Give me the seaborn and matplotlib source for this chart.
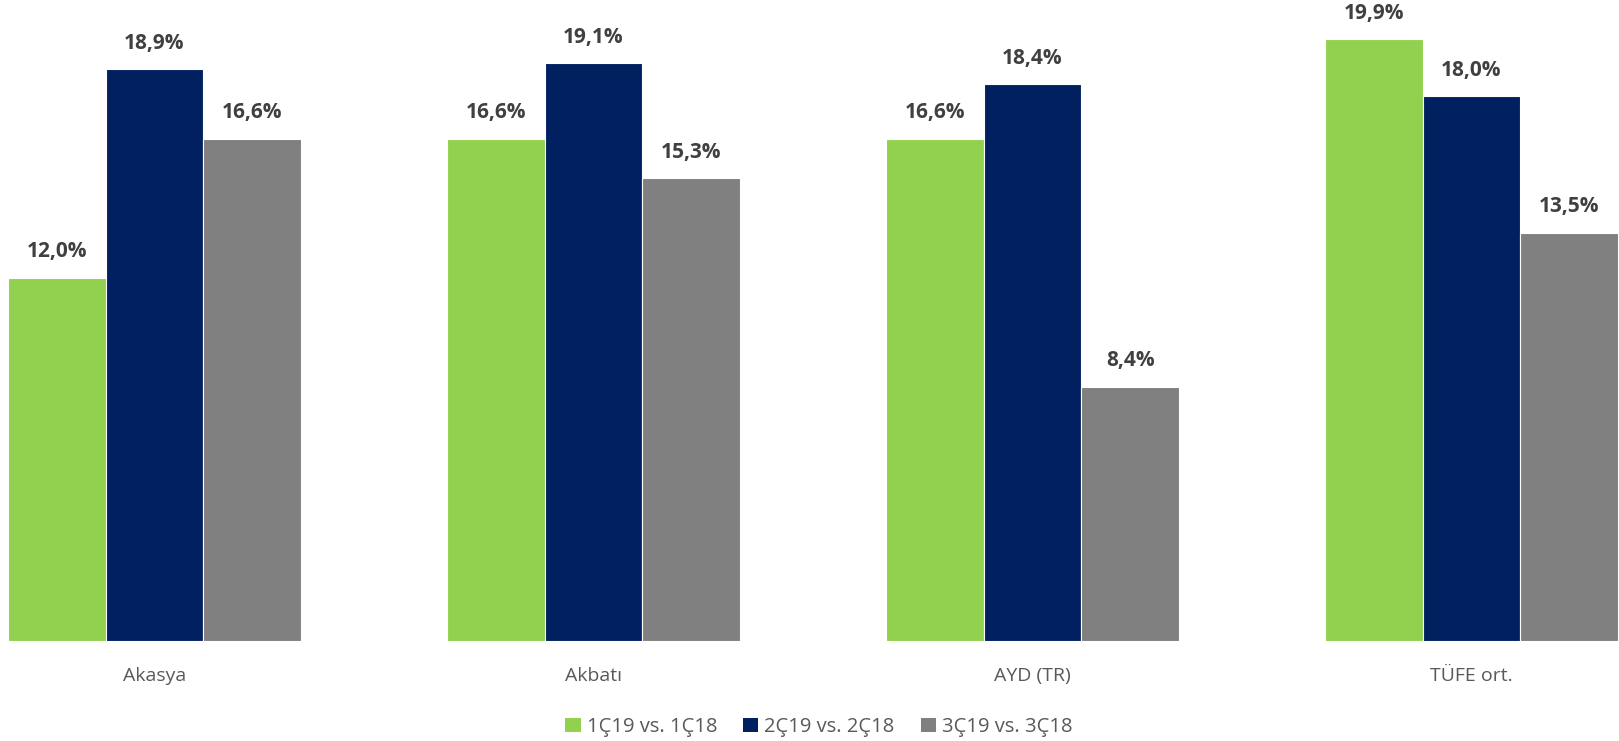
import matplotlib
matplotlib.use("Agg")
import matplotlib.pyplot as plt
import seaborn as sns
import pandas as pd
from matplotlib.patches import Patch

categories = ["Akasya", "Akbatı", "AYD (TR)", "TÜFE ort."]
series = ["1Ç19 vs. 1Ç18", "2Ç19 vs. 2Ç18", "3Ç19 vs. 3Ç18"]
s1 = [12.0, 16.6, 16.6, 19.9]
s2 = [18.9, 19.1, 18.4, 18.0]
s3 = [16.6, 15.3, 8.4, 13.5]
colors = ["#92D050", "#002060", "#808080"]

rows = []
for name, vals in zip(series, [s1, s2, s3]):
    for c, v in zip(categories, vals):
        rows.append({"cat": c, "series": name, "value": v})
df = pd.DataFrame(rows)

sns.set_theme(style="white")
plt.rcParams['font.family'] = ['Open Sans', 'DejaVu Sans']

fig = plt.figure(figsize=(16.19, 7.41), dpi=100)
ax = fig.add_axes([0, 100 / 741, 1, 641 / 741])
sns.barplot(data=df, x="cat", y="value", hue="series", order=categories,
            hue_order=series, palette=colors, width=0.667, ax=ax,
            edgecolor="white", linewidth=0.8, legend=False, saturation=1)

ax.set_xlim(-0.352, 3.336)
ax.set_ylim(0, 21.19)
for sp in ax.spines.values():
    sp.set_visible(False)
ax.set_yticks([])
ax.set_xlabel("")
ax.set_ylabel("")
ax.tick_params(axis="x", length=0, pad=19, labelsize=14, labelcolor="#595959")

for cont in ax.containers:
    for bar in cont:
        h = bar.get_height()
        ax.annotate(f"{h:.1f}%".replace(".", ","),
                    (bar.get_x() + bar.get_width() / 2, h),
                    xytext=(0, 26), textcoords="offset pixels",
                    ha="center", va="center", fontsize=15, fontweight="bold",
                    color="#404040")

handles = [Patch(facecolor=c, edgecolor="none") for c in colors]
fig.legend(handles, series, loc="center", bbox_to_anchor=(819 / 1619, 1 - 727 / 741),
           ncol=3, frameon=False, fontsize=14.5, labelcolor="#595959",
           handlelength=0.75, handleheight=0.75, handletextpad=0.3, columnspacing=1.3)

fig.savefig("out.png", dpi=100)
